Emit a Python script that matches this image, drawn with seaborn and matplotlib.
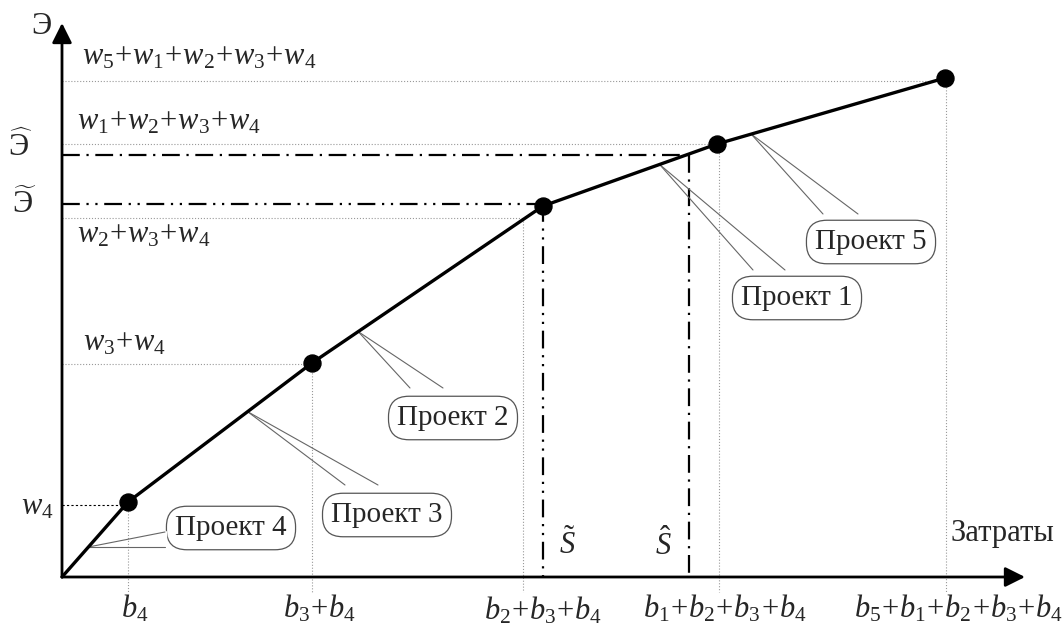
import numpy as np
import matplotlib.pyplot as plt
import seaborn as sns

# projects in the order they are taken (best effect per cost first)
projects = ["Проект 4", "Проект 3", "Проект 2", "Проект 1", "Проект 5"]
# cumulative costs and effects after each project
cum_cost = [6.6, 25.0, 48.1, 65.5, 88.3]
cum_effect = [7.5, 21.4, 37.1, 43.3, 49.9]
# guide lines (drawn slightly off the points in the original)
guide_cost = [6.6, 25.0, 46.1, 65.7, 88.4]
guide_effect = [7.2, 21.3, 35.9, 43.3, 49.6]
cost_labels = [r"$b_4$", r"$b_3\!+\!b_4$", r"$b_2\!+\!b_3\!+\!b_4$",
               r"$b_1\!+\!b_2\!+\!b_3\!+\!b_4$", r"$b_5\!+\!b_1\!+\!b_2\!+\!b_3\!+\!b_4$"]
effect_labels = [r"$w_4$", r"$w_3\!+\!w_4$", r"$w_2\!+\!w_3\!+\!w_4$",
                 r"$w_1\!+\!w_2\!+\!w_3\!+\!w_4$", r"$w_5\!+\!w_1\!+\!w_2\!+\!w_3\!+\!w_4$"]
# budgets S~ and S^ with reached effects
budget_tilde, effect_tilde = 48.1, 37.3
budget_hat, effect_hat = 62.7, 42.2

sns.set_style("white")
plt.rcParams["font.family"] = ["Liberation Serif", "DejaVu Serif"]
plt.rcParams["mathtext.fontset"] = "custom"
plt.rcParams["mathtext.rm"] = "Liberation Serif"
plt.rcParams["mathtext.it"] = "Liberation Serif:italic"

fig = plt.figure(figsize=(10.63, 6.3), dpi=100)
ax = fig.add_axes([0, 0, 1, 1])
ax.set_xlim(-6.2, 100.1)
ax.set_ylim(-5.3, 57.7)
ax.axis("off")
FS = 22   # formulas
FS_BOX = 21

# axes as arrows
arrow = dict(arrowstyle="-|>,head_length=0.8,head_width=0.4", lw=2, color="black",
             mutation_scale=15, shrinkA=0, shrinkB=0)
ax.annotate("", xy=(96.3, 0), xytext=(0, 0), arrowprops=arrow)
ax.annotate("", xy=(0, 55.4), xytext=(0, 0), arrowprops=arrow)
ax.text(-2.1, 55.0, "Э", fontsize=22, ha="center", va="center")
ax.text(88.8, 4.3, "Затраты", fontsize=22, ha="left", va="center")

# dotted guides
for i, (gx, gy) in enumerate(zip(guide_cost, guide_effect)):
    if i == 0:
        ax.plot([0, gx], [gy, gy], color="black", lw=0.8, ls=(0, (2, 2)))
    else:
        ax.plot([0, gx], [gy, gy], color="#999999", lw=0.8, ls=":")
    ax.plot([gx, gx], [gy, -1.5], color="#999999", lw=0.8, ls=":")

# labels on the axes
cost_lab_x = [7.3, 25.7, budget_tilde, 66.3, 89.6]
for i, lab in enumerate(cost_labels):
    ax.text(cost_lab_x[i], -4.3 if i == 2 else -4.1, lab, fontsize=FS,
            ha="center", va="baseline")
ax.text(-2.5, 7.0, effect_labels[0], fontsize=FS, ha="center", va="center")
eff_lab_pos = [None, (2.1, 23.4), (1.5, 34.2), (1.5, 45.5), (2.0, 52.0)]
for i in range(1, 5):
    ax.text(*eff_lab_pos[i], effect_labels[i], fontsize=FS, ha="left", va="center")

# budget lines
dash_tilde = (0, (8, 3, 1, 3, 1, 3))
dash_hat = (0, (8, 3, 1, 3))
ax.plot([0, budget_tilde], [effect_tilde, effect_tilde], color="black", lw=1.6, ls=dash_tilde)
ax.plot([budget_tilde, budget_tilde], [effect_tilde, 0], color="black", lw=1.6, ls=dash_tilde)
ax.plot([0, budget_hat], [effect_hat, effect_hat], color="black", lw=1.6, ls=dash_hat)
ax.plot([budget_hat, budget_hat], [effect_hat, 0], color="black", lw=1.6, ls=dash_hat)
ax.text(-3.8, 37.3, r"$\widetilde{\mathrm{Э}}$", fontsize=FS, ha="center", va="center")
ax.text(-4.2, 43.0, r"$\widehat{\mathrm{Э}}$", fontsize=FS, ha="center", va="center")
ax.text(50.5, 3.2, r"$\tilde{S}$", fontsize=FS, ha="center", va="center")
ax.text(60.1, 3.2, r"$\hat{S}$", fontsize=FS, ha="center", va="center")

# efficiency curve
curve_x = [0] + cum_cost
curve_y = [0] + cum_effect
sns.lineplot(x=curve_x, y=curve_y, ax=ax, color="black", lw=2.4, estimator=None, sort=False, zorder=5)
sns.scatterplot(x=cum_cost, y=cum_effect, ax=ax, color="black", s=150, zorder=6, edgecolor="black")

# callouts: segment index, position on segment, box centre, wedge base
callouts = [
    (0, 0.40, (16.9, 4.9), [(10.3, 4.5), (10.3, 3.0)]),
    (1, 0.65, (32.5, 6.2), [(28.3, 9.2), (31.6, 9.2)]),
    (2, 0.20, (39.1, 15.9), [(34.8, 18.9), (38.1, 18.9)]),
    (3, 0.67, (73.5, 27.9), [(69.1, 30.7), (72.3, 30.7)]),
    (4, 0.15, (80.9, 33.5), [(76.1, 36.3), (79.6, 36.3)]),
]
for name, (seg, t, centre, base) in zip(projects, callouts):
    tx = curve_x[seg] + t * (curve_x[seg + 1] - curve_x[seg])
    ty = curve_y[seg] + t * (curve_y[seg + 1] - curve_y[seg])
    ax.text(*centre, name, fontsize=FS_BOX, ha="center", va="center", zorder=3,
            bbox=dict(boxstyle="round,pad=0.3,rounding_size=0.7", fc="white", ec="#555555", lw=0.9))
    ax.plot([base[0][0], base[1][0]], [base[0][1], base[1][1]], color="white", lw=2.5, zorder=4)
    for bx, by in base:
        ax.plot([bx, tx], [by, ty], color="#666666", lw=0.8, zorder=4)

fig.savefig("out.png", dpi=100)
